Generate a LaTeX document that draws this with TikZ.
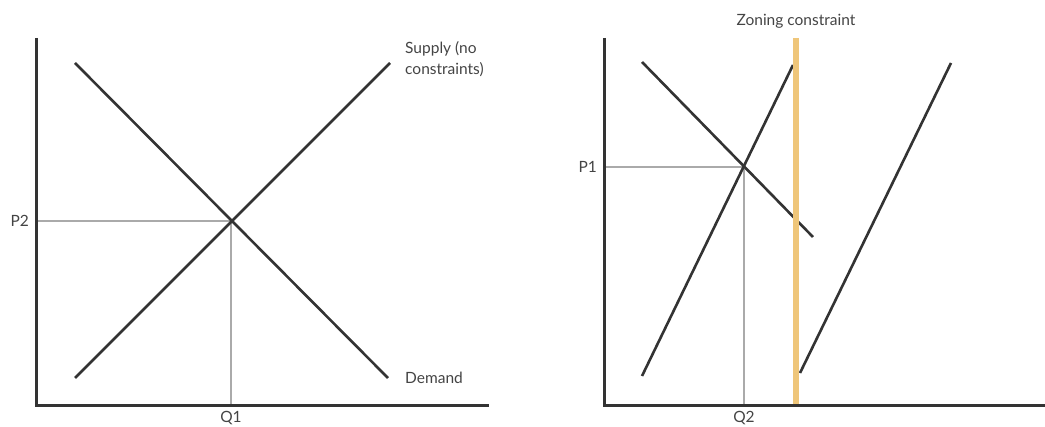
\documentclass[tikz,border=0pt]{standalone}
\usepackage{fontspec}
\setmainfont{Lato}
\usetikzlibrary{positioning, calc}
\definecolor{curve}{HTML}{333333}
\definecolor{guide}{HTML}{AAAAAA}
\definecolor{zoning}{HTML}{EFC67A}
\definecolor{lbl}{HTML}{444444}

\begin{document}
\begin{tikzpicture}[
  x=1pt, y=-1pt,
  axis/.style={draw=curve, line width=3pt},
  crv/.style={draw=curve, line width=2.6pt},
  guideline/.style={draw=guide, line width=1.4pt},
  zone/.style={draw=zoning, line width=6pt},
  lab/.style={font=\fontsize{15.5}{21}\selectfont, text=lbl, inner sep=1pt},
]
\useasboundingbox (0,0) rectangle (1045,427);

% Left panel: no constraints
\coordinate (lo) at (36,406);
\coordinate (ltop) at (36,38);
\coordinate (lend) at (489,406);
\coordinate (dA) at (75,63);
\coordinate (dB) at (388,378);
\coordinate (sA) at (75,378);
\coordinate (sB) at (390,63);
\coordinate (eq1) at (231,221);

\draw[guideline] (eq1) -- (eq1 -| lo);
\draw[guideline] (eq1) -- (eq1 |- lo);
\draw[crv] (dA) -- (dB);
\draw[crv] (sA) -- (sB);
\draw[axis] (ltop) -- (lo) -- (lend);

\node[lab, left=6pt of eq1 -| lo] (p2) {P2};
\node[lab, below=4pt of eq1 |- lo] (q1) {Q1};
\node[lab, anchor=north west, align=left] (slab) at (404,40) {Supply (no\\constraints)};
\node[lab, anchor=west] (dlab) at (404,378) {Demand};

% Right panel: zoning constraint
\coordinate (ro) at (604,406);
\coordinate (rtop) at (604,38);
\coordinate (rend) at (1045,406);
\coordinate (zA) at (796,38);
\coordinate (zB) at (796,406);
\coordinate (rdA) at (642,62);
\coordinate (rdB) at (813,237);
\coordinate (s1A) at (642,376);
\coordinate (s1B) at (793,65);
\coordinate (s2A) at (800,373);
\coordinate (s2B) at (951,63);
\coordinate (eq2) at (744,167);

\draw[guideline] (eq2) -- (eq2 -| ro);
\draw[guideline] (eq2) -- (eq2 |- ro);
\draw[crv] (rdA) -- (rdB);
\draw[crv] (s1A) -- (s1B);
\draw[crv] (s2A) -- (s2B);
\draw[zone] (zA) -- (zB);
\draw[axis] (rtop) -- (ro) -- (rend);

\node[lab, left=6pt of eq2 -| ro] (p1) {P1};
\node[lab, below=4pt of eq2 |- ro] (q2) {Q2};
\node[lab, above=8pt of zA] (zlab) {Zoning constraint};
\end{tikzpicture}
\end{document}
